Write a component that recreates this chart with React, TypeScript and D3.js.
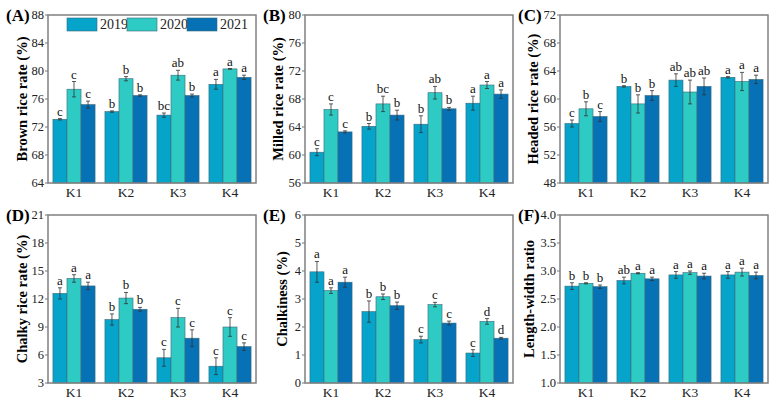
import React from "react";
import * as d3 from "d3";

const categories = ["K1", "K2", "K3", "K4"];
const years = ["2019", "2020", "2021"];
const colors = ["#06A4CA", "#2ECBC4", "#0671B4"];

// Panel A: Brown rice rate
const brown2019 = [73.1, 74.2, 73.7, 78.1];
const brown2020 = [77.4, 78.9, 79.4, 80.3];
const brown2021 = [75.2, 76.5, 76.5, 79.1];
const brownErr2019 = [0.1, 0.1, 0.3, 0.7];
const brownErr2020 = [1.1, 0.3, 0.7, 0.05];
const brownErr2021 = [0.5, 0.1, 0.2, 0.3];
const brownLetters2019 = ["c", "b", "bc", "a"];
const brownLetters2020 = ["c", "b", "ab", "a"];
const brownLetters2021 = ["c", "b", "b", "a"];
const brownTicks = [64, 68, 72, 76, 80, 84, 88];

// Panel B: Milled rice rate
const milled2019 = [60.4, 64.1, 64.4, 67.4];
const milled2020 = [66.5, 67.3, 68.9, 70.0];
const milled2021 = [63.3, 65.7, 66.6, 68.7];
const milledErr2019 = [0.5, 0.4, 1.2, 1.0];
const milledErr2020 = [0.8, 1.1, 0.9, 0.5];
const milledErr2021 = [0.15, 0.7, 0.2, 0.6];
const milledLetters2019 = ["c", "b", "b", "a"];
const milledLetters2020 = ["c", "bc", "ab", "a"];
const milledLetters2021 = ["c", "b", "b", "a"];
const milledTicks = [56, 60, 64, 68, 72, 76, 80];

// Panel C: Headed rice rate
const headed2019 = [56.5, 61.8, 62.7, 63.1];
const headed2020 = [58.6, 59.3, 61.0, 62.5];
const headed2021 = [57.5, 60.5, 61.8, 62.8];
const headedErr2019 = [0.5, 0.1, 0.9, 0.1];
const headedErr2020 = [1.0, 1.3, 1.7, 1.3];
const headedErr2021 = [0.7, 0.7, 1.2, 0.6];
const headedLetters2019 = ["c", "b", "ab", "a"];
const headedLetters2020 = ["b", "b", "ab", "a"];
const headedLetters2021 = ["c", "b", "ab", "a"];
const headedTicks = [48, 52, 56, 60, 64, 68, 72];

// Panel D: Chalky rice rate
const chalky2019 = [12.6, 9.8, 5.7, 4.8];
const chalky2020 = [14.2, 12.1, 10.0, 9.0];
const chalky2021 = [13.4, 10.9, 7.8, 6.9];
const chalkyErr2019 = [0.6, 0.6, 0.9, 0.9];
const chalkyErr2020 = [0.4, 0.6, 1.0, 1.0];
const chalkyErr2021 = [0.4, 0.2, 0.9, 0.4];
const chalkyLetters2019 = ["a", "b", "c", "c"];
const chalkyLetters2020 = ["a", "b", "c", "c"];
const chalkyLetters2021 = ["a", "b", "c", "c"];
const chalkyTicks = [3, 6, 9, 12, 15, 18, 21];

// Panel E: Chalkiness
const chalkiness2019 = [3.97, 2.55, 1.55, 1.07];
const chalkiness2020 = [3.3, 3.08, 2.8, 2.2];
const chalkiness2021 = [3.6, 2.76, 2.14, 1.6];
const chalkinessErr2019 = [0.37, 0.38, 0.12, 0.12];
const chalkinessErr2020 = [0.1, 0.1, 0.08, 0.1];
const chalkinessErr2021 = [0.18, 0.13, 0.07, 0.03];
const chalkinessLetters2019 = ["a", "b", "c", "c"];
const chalkinessLetters2020 = ["a", "b", "c", "d"];
const chalkinessLetters2021 = ["a", "b", "c", "d"];
const chalkinessTicks = [0, 1, 2, 3, 4, 5, 6];

// Panel F: Length-width ratio
const lw2019 = [2.73, 2.83, 2.93, 2.93];
const lw2020 = [2.78, 2.96, 2.97, 2.98];
const lw2021 = [2.72, 2.86, 2.91, 2.92];
const lwErr2019 = [0.06, 0.06, 0.06, 0.06];
const lwErr2020 = [0.01, 0.01, 0.03, 0.07];
const lwErr2021 = [0.03, 0.03, 0.05, 0.06];
const lwLetters2019 = ["b", "ab", "a", "a"];
const lwLetters2020 = ["b", "a", "a", "a"];
const lwLetters2021 = ["b", "a", "a", "a"];
const lwTicks = [1.0, 1.5, 2.0, 2.5, 3.0, 3.5, 4.0];

const FONT = "'Liberation Serif', 'Times New Roman', Times, serif";

type PanelDef = {
  tag: string;
  ylabel: string;
  values: number[][];
  errs: number[][];
  letters: string[][];
  ticks: number[];
  fmt: (v: number) => string;
  x: number;
  y: number;
  labelOffset: number;
  legend?: boolean;
};

const W = 208;
const H = 168;

const panels: PanelDef[] = [
  { tag: "(A)", ylabel: "Brown rice rate  (%)", values: [brown2019, brown2020, brown2021], errs: [brownErr2019, brownErr2020, brownErr2021], letters: [brownLetters2019, brownLetters2020, brownLetters2021], ticks: brownTicks, fmt: (v) => String(v), x: 48, y: 15, labelOffset: -21, legend: true },
  { tag: "(B)", ylabel: "Milled rice rate  (%)", values: [milled2019, milled2020, milled2021], errs: [milledErr2019, milledErr2020, milledErr2021], letters: [milledLetters2019, milledLetters2020, milledLetters2021], ticks: milledTicks, fmt: (v) => String(v), x: 305, y: 15, labelOffset: -22 },
  { tag: "(C)", ylabel: "Headed rice rate (%)", values: [headed2019, headed2020, headed2021], errs: [headedErr2019, headedErr2020, headedErr2021], letters: [headedLetters2019, headedLetters2020, headedLetters2021], ticks: headedTicks, fmt: (v) => String(v), x: 560, y: 15, labelOffset: -22 },
  { tag: "(D)", ylabel: "Chalky rice rate  (%)", values: [chalky2019, chalky2020, chalky2021], errs: [chalkyErr2019, chalkyErr2020, chalkyErr2021], letters: [chalkyLetters2019, chalkyLetters2020, chalkyLetters2021], ticks: chalkyTicks, fmt: (v) => String(v), x: 48, y: 215, labelOffset: -21 },
  { tag: "(E)", ylabel: "Chalkiness  (%)", values: [chalkiness2019, chalkiness2020, chalkiness2021], errs: [chalkinessErr2019, chalkinessErr2020, chalkinessErr2021], letters: [chalkinessLetters2019, chalkinessLetters2020, chalkinessLetters2021], ticks: chalkinessTicks, fmt: (v) => String(v), x: 305, y: 215, labelOffset: -18 },
  { tag: "(F)", ylabel: "Length-width ratio", values: [lw2019, lw2020, lw2021], errs: [lwErr2019, lwErr2020, lwErr2021], letters: [lwLetters2019, lwLetters2020, lwLetters2021], ticks: lwTicks, fmt: (v) => v.toFixed(1), x: 560, y: 215, labelOffset: -26 },
];

function Panel({ p }: { p: PanelDef }) {
  const x0 = d3.scaleBand<string>().domain(categories).range([0, W]).paddingInner(0.19).paddingOuter(0.095);
  const x1 = d3.scaleBand<string>().domain(years).range([0, x0.bandwidth()]);
  const dom = d3.extent(p.ticks) as [number, number];
  const y = d3.scaleLinear().domain(dom).range([H, 0]);
  return (
    <g transform={`translate(${p.x},${p.y})`}>
      <text x={-42} y={6} fontFamily={FONT} fontWeight="bold" fontSize={17}>{p.tag}</text>
      <text transform={`translate(${p.labelOffset},${H / 2}) rotate(-90)`} textAnchor="middle" fontFamily={FONT} fontWeight="bold" fontSize={14.5}>{p.ylabel}</text>
      {p.ticks.map((t) => (
        <g key={t}>
          <line x1={-3} x2={0} y1={y(t)} y2={y(t)} stroke="#777" strokeWidth={1} />
          <text x={-4} y={y(t)} dy="0.35em" textAnchor="end" fontFamily={FONT} fontSize={12.5} fill="#222">{p.fmt(t)}</text>
        </g>
      ))}
      {categories.map((c, ci) => (
        <g key={c} transform={`translate(${x0(c)},0)`}>
          {years.map((yr, si) => {
            const v = p.values[si][ci];
            const e = p.errs[si][ci];
            const bx = x1(yr) as number;
            const bw = x1.bandwidth();
            const cx = bx + bw / 2;
            return (
              <g key={yr}>
                <rect x={bx} y={y(v)} width={bw} height={H - y(v)} fill={colors[si]} stroke="#3a6a7a" strokeWidth={0.6} />
                <line x1={cx} x2={cx} y1={y(v + e)} y2={y(v - e)} stroke="#333" strokeWidth={0.8} />
                <line x1={cx - 2} x2={cx + 2} y1={y(v + e)} y2={y(v + e)} stroke="#333" strokeWidth={0.8} />
                <line x1={cx - 2} x2={cx + 2} y1={y(v - e)} y2={y(v - e)} stroke="#333" strokeWidth={0.8} />
                <text x={cx} y={y(v + e) - 3} textAnchor="middle" fontFamily={FONT} fontSize={13} fill="#111">{p.letters[si][ci]}</text>
              </g>
            );
          })}
          <text x={x0.bandwidth() / 2} y={H + 14} textAnchor="middle" fontFamily={FONT} fontSize={13.5} fill="#222">{c}</text>
        </g>
      ))}
      <rect x={0} y={0} width={W} height={H} fill="none" stroke="#808080" strokeWidth={1.5} />
      {p.legend && (
        <g>
          {years.map((yr, i) => {
            const lx = 19 + i * 60;
            return (
              <g key={yr}>
                <rect x={lx} y={3} width={30} height={13} fill={colors[i]} stroke="#3a6a7a" strokeWidth={0.6} />
                <text x={lx + 33} y={14} fontFamily={FONT} fontSize={14} fill="#222">{yr}</text>
              </g>
            );
          })}
        </g>
      )}
    </g>
  );
}

export default function App() {
  return (
    <svg width={777} height={407} style={{ position: "absolute", left: 0, top: 0, background: "#fff" }}>
      <rect width={777} height={407} fill="#fff" />
      {panels.map((p) => (
        <Panel key={p.tag} p={p} />
      ))}
    </svg>
  );
}
